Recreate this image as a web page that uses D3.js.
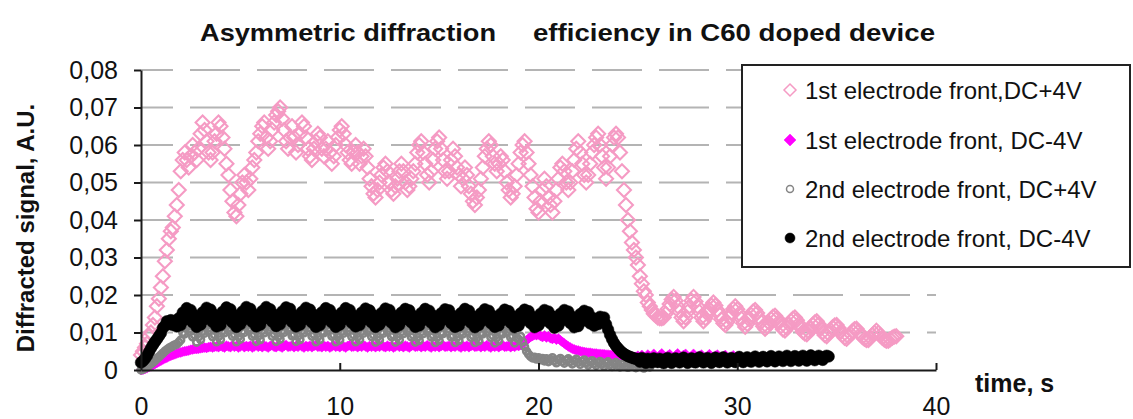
<!DOCTYPE html>
<html>
<head>
<meta charset="utf-8">
<script src="https://cdn.jsdelivr.net/npm/d3@7"></script>
<style>
  html, body { margin: 0; padding: 0; background: #fff; }
  svg { display: block; font-family: "Liberation Sans", Arial, sans-serif; }
</style>
</head>
<body>
<svg id="chart" width="1133" height="419"></svg>
<script>
// Sampling interval of the recorded traces, seconds (one row below = 1 s)
const timeStep = 0.1;

// 1st electrode front, DC+4V (t = 0 … 38 s)
const firstPlus = [
  0.004, 0.005, 0.006, 0.007, 0.009, 0.010, 0.012, 0.014, 0.017, 0.019,
  0.022, 0.025, 0.029, 0.032, 0.035, 0.037, 0.038, 0.041, 0.044, 0.048,
  0.053, 0.056, 0.058, 0.056, 0.054, 0.057, 0.060, 0.058, 0.056, 0.059,
  0.063, 0.066, 0.064, 0.061, 0.058, 0.056, 0.058, 0.061, 0.063, 0.066,
  0.065, 0.062, 0.059, 0.055, 0.052, 0.048, 0.045, 0.042, 0.041, 0.044,
  0.047, 0.050, 0.052, 0.050, 0.048, 0.051, 0.054, 0.056, 0.058, 0.061,
  0.063, 0.065, 0.066, 0.062, 0.059, 0.061, 0.064, 0.066, 0.068, 0.069,
  0.070, 0.067, 0.064, 0.061, 0.059, 0.062, 0.065, 0.062, 0.058, 0.060,
  0.063, 0.066, 0.065, 0.062, 0.059, 0.057, 0.056, 0.059, 0.061, 0.063,
  0.062, 0.059, 0.057, 0.059, 0.061, 0.058, 0.055, 0.057, 0.060, 0.062,
  0.064, 0.065, 0.063, 0.060, 0.058, 0.056, 0.055, 0.058, 0.060, 0.058,
  0.055, 0.057, 0.059, 0.057, 0.054, 0.051, 0.049, 0.047, 0.046, 0.048,
  0.050, 0.052, 0.054, 0.055, 0.053, 0.050, 0.048, 0.047, 0.049, 0.051,
  0.053, 0.055, 0.053, 0.050, 0.048, 0.049, 0.051, 0.053, 0.055, 0.058,
  0.060, 0.061, 0.058, 0.055, 0.052, 0.050, 0.053, 0.056, 0.059, 0.061,
  0.062, 0.059, 0.056, 0.053, 0.051, 0.053, 0.056, 0.059, 0.057, 0.054,
  0.052, 0.049, 0.051, 0.054, 0.052, 0.049, 0.047, 0.045, 0.044, 0.046,
  0.048, 0.051, 0.054, 0.057, 0.059, 0.061, 0.060, 0.057, 0.055, 0.053,
  0.055, 0.057, 0.056, 0.053, 0.050, 0.048, 0.046, 0.047, 0.049, 0.052,
  0.055, 0.058, 0.060, 0.061, 0.058, 0.055, 0.052, 0.049, 0.046, 0.043,
  0.042, 0.045, 0.048, 0.051, 0.049, 0.046, 0.044, 0.042, 0.045, 0.048,
  0.051, 0.054, 0.055, 0.053, 0.050, 0.048, 0.050, 0.053, 0.056, 0.059,
  0.061, 0.058, 0.055, 0.052, 0.050, 0.052, 0.055, 0.058, 0.060, 0.062,
  0.063, 0.060, 0.057, 0.054, 0.051, 0.054, 0.057, 0.060, 0.062, 0.063,
  0.062, 0.058, 0.053, 0.048, 0.044, 0.040, 0.037, 0.034, 0.032, 0.030,
  0.028, 0.025, 0.023, 0.021, 0.020, 0.018, 0.017, 0.016, 0.015, 0.0145,
  0.014, 0.0138, 0.0138, 0.014, 0.015, 0.0163, 0.0176, 0.0188, 0.0195, 0.0185,
  0.017, 0.0155, 0.014, 0.013, 0.014, 0.0155, 0.017, 0.0185, 0.0195, 0.0183,
  0.017, 0.0155, 0.014, 0.013, 0.0138, 0.015, 0.0162, 0.0172, 0.018, 0.0172,
  0.016, 0.0148, 0.0135, 0.0125, 0.012, 0.0128, 0.014, 0.0152, 0.0163, 0.017,
  0.0162, 0.015, 0.0137, 0.0125, 0.0115, 0.0123, 0.0135, 0.0147, 0.0156, 0.016,
  0.0152, 0.014, 0.0128, 0.0117, 0.011, 0.0116, 0.0126, 0.0136, 0.0142, 0.0145,
  0.0138, 0.0128, 0.0117, 0.0108, 0.0105, 0.0112, 0.0122, 0.0131, 0.0137, 0.014,
  0.0133, 0.0123, 0.0112, 0.0102, 0.0097, 0.0095, 0.0102, 0.0112, 0.0121, 0.0127,
  0.013, 0.0122, 0.0112, 0.0101, 0.0093, 0.009, 0.0097, 0.0106, 0.0114, 0.0119,
  0.012, 0.0112, 0.0102, 0.0093, 0.0086, 0.0083, 0.0089, 0.0097, 0.0104, 0.0109,
  0.011, 0.0103, 0.0095, 0.0088, 0.0083, 0.008, 0.008, 0.0086, 0.0093, 0.0099,
  0.0105, 0.0099, 0.0092, 0.0086, 0.0081, 0.0078, 0.0078, 0.0082, 0.0086, 0.0089,
  0.009
];

// 1st electrode front, DC-4V (t = 0 … 30 s)
const firstMinus = [
  0.0000, 0.0001, 0.0003, 0.0005, 0.0008, 0.0010, 0.0013, 0.0016, 0.0019, 0.0022,
  0.0025, 0.0028, 0.0031, 0.0033, 0.0036, 0.0038, 0.0040, 0.0042, 0.0044, 0.0046,
  0.0047, 0.0049, 0.0050, 0.0051, 0.0052, 0.0054, 0.0055, 0.0056, 0.0056, 0.0057,
  0.0058, 0.0059, 0.0060, 0.0059, 0.0061, 0.0062, 0.0060, 0.0062, 0.0063, 0.0061,
  0.0064, 0.0062, 0.0060, 0.0065, 0.0063, 0.0061, 0.0066, 0.0062, 0.0064, 0.0060,
  0.0063, 0.0066, 0.0061, 0.0064, 0.0062, 0.0065, 0.0060, 0.0063, 0.0066, 0.0062,
  0.0064, 0.0061, 0.0065, 0.0063, 0.0060, 0.0064, 0.0066, 0.0062, 0.0061, 0.0065,
  0.0063, 0.0060, 0.0064, 0.0067, 0.0062, 0.0063, 0.0065, 0.0061, 0.0064, 0.0062,
  0.0066, 0.0063, 0.0060, 0.0064, 0.0062, 0.0065, 0.0061, 0.0064, 0.0066, 0.0062,
  0.0063, 0.0061, 0.0065, 0.0062, 0.0064, 0.0060, 0.0063, 0.0066, 0.0062, 0.0064,
  0.0061, 0.0065, 0.0063, 0.0060, 0.0064, 0.0066, 0.0062, 0.0063, 0.0065, 0.0061,
  0.0064, 0.0062, 0.0066, 0.0063, 0.0060, 0.0064, 0.0062, 0.0065, 0.0061, 0.0064,
  0.0062, 0.0066, 0.0063, 0.0061, 0.0065, 0.0062, 0.0064, 0.0060, 0.0063, 0.0066,
  0.0062, 0.0064, 0.0061, 0.0065, 0.0063, 0.0060, 0.0064, 0.0066, 0.0062, 0.0063,
  0.0065, 0.0061, 0.0064, 0.0062, 0.0066, 0.0063, 0.0060, 0.0064, 0.0062, 0.0065,
  0.0061, 0.0064, 0.0066, 0.0062, 0.0063, 0.0065, 0.0061, 0.0064, 0.0062, 0.0066,
  0.0063, 0.0060, 0.0064, 0.0062, 0.0065, 0.0061, 0.0064, 0.0066, 0.0062, 0.0063,
  0.0065, 0.0061, 0.0064, 0.0062, 0.0066, 0.0063, 0.0060, 0.0064, 0.0062, 0.0065,
  0.0061, 0.0064, 0.0066, 0.0062, 0.0063, 0.0065, 0.0061, 0.0064, 0.0062, 0.0066,
  0.0064, 0.0067, 0.0070, 0.0074, 0.0079, 0.0084, 0.0088, 0.0091, 0.0094, 0.0093,
  0.0095, 0.0091, 0.0088, 0.0092, 0.0087, 0.0090, 0.0085, 0.0083, 0.0086, 0.0081,
  0.0084, 0.0079, 0.0075, 0.0071, 0.0067, 0.0063, 0.0060, 0.0057, 0.0055, 0.0053,
  0.0052, 0.0050, 0.0049, 0.0048, 0.0047, 0.0046, 0.0046, 0.0045, 0.0044, 0.0044,
  0.0043, 0.0043, 0.0042, 0.0042, 0.0041, 0.0041, 0.0040, 0.0040, 0.0039, 0.0039,
  0.0038, 0.0038, 0.0037, 0.0037, 0.0036, 0.0036, 0.0036, 0.0035, 0.0035, 0.0035,
  0.0038, 0.0032, 0.0040, 0.0034, 0.0030, 0.0041, 0.0036, 0.0031, 0.0043, 0.0033,
  0.0027, 0.0039, 0.0044, 0.0032, 0.0026, 0.0038, 0.0042, 0.0030, 0.0025, 0.0039,
  0.0044, 0.0031, 0.0027, 0.0040, 0.0043, 0.0030, 0.0024, 0.0037, 0.0043, 0.0031,
  0.0026, 0.0038, 0.0041, 0.0029, 0.0025, 0.0036, 0.0042, 0.0031, 0.0026, 0.0038,
  0.0041, 0.0029, 0.0025, 0.0036, 0.0040, 0.0028, 0.0024, 0.0035, 0.0039, 0.0029,
  0.0034
];

// 2nd electrode front, DC+4V (t = 0 … 25.6 s)
const secondPlus = [
  0.0000, 0.0002, 0.0005, 0.0008, 0.0012, 0.0016, 0.0020, 0.0025, 0.0030, 0.0035,
  0.0040, 0.0045, 0.0050, 0.0054, 0.0058, 0.0061, 0.0064, 0.0067, 0.0069, 0.0074,
  0.0080, 0.0100, 0.0096, 0.0115, 0.0103, 0.0110, 0.0088, 0.0093, 0.0074, 0.0088,
  0.0081, 0.0103, 0.0098, 0.0118, 0.0104, 0.0112, 0.0089, 0.0094, 0.0075, 0.0089,
  0.0081, 0.0104, 0.0099, 0.0119, 0.0105, 0.0113, 0.0090, 0.0095, 0.0075, 0.0089,
  0.0082, 0.0104, 0.0100, 0.0119, 0.0106, 0.0113, 0.0090, 0.0095, 0.0076, 0.0090,
  0.0081, 0.0105, 0.0099, 0.0120, 0.0105, 0.0114, 0.0090, 0.0096, 0.0076, 0.0089,
  0.0082, 0.0104, 0.0100, 0.0119, 0.0106, 0.0113, 0.0091, 0.0095, 0.0076, 0.0090,
  0.0081, 0.0104, 0.0099, 0.0119, 0.0105, 0.0113, 0.0090, 0.0095, 0.0075, 0.0089,
  0.0081, 0.0103, 0.0099, 0.0118, 0.0105, 0.0112, 0.0090, 0.0094, 0.0075, 0.0089,
  0.0080, 0.0103, 0.0098, 0.0118, 0.0104, 0.0112, 0.0089, 0.0094, 0.0075, 0.0088,
  0.0081, 0.0103, 0.0098, 0.0117, 0.0104, 0.0111, 0.0089, 0.0094, 0.0074, 0.0088,
  0.0080, 0.0102, 0.0098, 0.0117, 0.0103, 0.0111, 0.0089, 0.0093, 0.0074, 0.0088,
  0.0080, 0.0102, 0.0097, 0.0117, 0.0103, 0.0111, 0.0088, 0.0093, 0.0074, 0.0087,
  0.0079, 0.0102, 0.0097, 0.0116, 0.0103, 0.0110, 0.0088, 0.0093, 0.0073, 0.0087,
  0.0079, 0.0101, 0.0097, 0.0116, 0.0102, 0.0110, 0.0088, 0.0092, 0.0073, 0.0087,
  0.0079, 0.0101, 0.0096, 0.0115, 0.0102, 0.0110, 0.0087, 0.0092, 0.0073, 0.0086,
  0.0078, 0.0100, 0.0096, 0.0115, 0.0101, 0.0109, 0.0087, 0.0092, 0.0072, 0.0086,
  0.0078, 0.0100, 0.0096, 0.0114, 0.0101, 0.0109, 0.0087, 0.0091, 0.0072, 0.0086,
  0.0082, 0.0090, 0.0075, 0.0062, 0.0050, 0.0042, 0.0036, 0.0032, 0.0034, 0.0029,
  0.0033, 0.0027, 0.0031, 0.0024, 0.0030, 0.0022, 0.0028, 0.0033, 0.0025, 0.0019,
  0.0027, 0.0031, 0.0023, 0.0018, 0.0026, 0.0030, 0.0022, 0.0016, 0.0024, 0.0029,
  0.0021, 0.0015, 0.0023, 0.0027, 0.0019, 0.0013, 0.0021, 0.0025, 0.0017, 0.0012,
  0.0019, 0.0023, 0.0016, 0.0010, 0.0018, 0.0022, 0.0014, 0.0009, 0.0016, 0.0020,
  0.0013, 0.0008, 0.0015, 0.0018, 0.0011, 0.0007, 0.0013, 0.0016, 0.0010, 0.0006,
  0.0012, 0.0014, 0.0009, 0.0005, 0.0010, 0.0012, 0.0008
];

// 2nd electrode front, DC-4V (t = 0 … 34.6 s)
const secondMinus = [
  0.0020, 0.0024, 0.0030, 0.0038, 0.0048, 0.0058, 0.0067, 0.0075, 0.0082, 0.0090,
  0.0098, 0.0112, 0.0118, 0.0130, 0.0122, 0.0133, 0.0120, 0.0131, 0.0116, 0.0138,
  0.0120, 0.0153, 0.0134, 0.0165, 0.0139, 0.0160, 0.0127, 0.0146, 0.0115, 0.0141,
  0.0121, 0.0154, 0.0135, 0.0166, 0.0140, 0.0161, 0.0128, 0.0147, 0.0116, 0.0142,
  0.0120, 0.0155, 0.0136, 0.0167, 0.0139, 0.0162, 0.0127, 0.0146, 0.0115, 0.0143,
  0.0122, 0.0156, 0.0135, 0.0168, 0.0141, 0.0163, 0.0128, 0.0148, 0.0116, 0.0142,
  0.0121, 0.0157, 0.0137, 0.0168, 0.0140, 0.0162, 0.0129, 0.0147, 0.0117, 0.0143,
  0.0122, 0.0156, 0.0136, 0.0167, 0.0141, 0.0163, 0.0128, 0.0146, 0.0116, 0.0142,
  0.0121, 0.0155, 0.0135, 0.0166, 0.0140, 0.0161, 0.0127, 0.0147, 0.0115, 0.0141,
  0.0120, 0.0154, 0.0134, 0.0165, 0.0139, 0.0160, 0.0127, 0.0146, 0.0115, 0.0142,
  0.0121, 0.0153, 0.0135, 0.0165, 0.0140, 0.0160, 0.0126, 0.0145, 0.0116, 0.0141,
  0.0120, 0.0153, 0.0134, 0.0164, 0.0139, 0.0159, 0.0127, 0.0146, 0.0115, 0.0140,
  0.0121, 0.0152, 0.0133, 0.0164, 0.0138, 0.0160, 0.0126, 0.0145, 0.0114, 0.0141,
  0.0120, 0.0153, 0.0134, 0.0163, 0.0139, 0.0159, 0.0127, 0.0144, 0.0115, 0.0140,
  0.0119, 0.0152, 0.0133, 0.0163, 0.0138, 0.0158, 0.0126, 0.0145, 0.0114, 0.0141,
  0.0120, 0.0151, 0.0134, 0.0162, 0.0139, 0.0159, 0.0125, 0.0144, 0.0115, 0.0140,
  0.0119, 0.0152, 0.0133, 0.0163, 0.0138, 0.0158, 0.0126, 0.0143, 0.0114, 0.0139,
  0.0120, 0.0151, 0.0132, 0.0162, 0.0137, 0.0158, 0.0125, 0.0144, 0.0115, 0.0140,
  0.0119, 0.0150, 0.0133, 0.0161, 0.0138, 0.0157, 0.0126, 0.0143, 0.0114, 0.0139,
  0.0118, 0.0151, 0.0132, 0.0161, 0.0137, 0.0157, 0.0125, 0.0142, 0.0114, 0.0140,
  0.0119, 0.0150, 0.0131, 0.0160, 0.0136, 0.0156, 0.0124, 0.0143, 0.0113, 0.0139,
  0.0118, 0.0150, 0.0132, 0.0160, 0.0137, 0.0156, 0.0125, 0.0142, 0.0114, 0.0138,
  0.0117, 0.0149, 0.0131, 0.0158, 0.0136, 0.0154, 0.0124, 0.0140, 0.0118, 0.0135,
  0.0122, 0.0142, 0.0128, 0.0140, 0.0122, 0.0108, 0.0094, 0.0082, 0.0072, 0.0064,
  0.0058, 0.0052, 0.0047, 0.0043, 0.0040, 0.0037, 0.0035, 0.0033, 0.0031, 0.0030,
  0.0029, 0.0022, 0.0032, 0.0025, 0.0019, 0.0030, 0.0027, 0.0020, 0.0031, 0.0026,
  0.0021, 0.0030, 0.0025, 0.0018, 0.0029, 0.0032, 0.0023, 0.0019, 0.0028, 0.0031,
  0.0024, 0.0020, 0.0029, 0.0033, 0.0025, 0.0019, 0.0027, 0.0031, 0.0022, 0.0020,
  0.0030, 0.0034, 0.0026, 0.0020, 0.0027, 0.0032, 0.0024, 0.0019, 0.0028, 0.0033,
  0.0025, 0.0021, 0.0030, 0.0034, 0.0026, 0.0020, 0.0028, 0.0032, 0.0024, 0.0021,
  0.0029, 0.0035, 0.0027, 0.0021, 0.0030, 0.0034, 0.0025, 0.0022, 0.0031, 0.0036,
  0.0028, 0.0022, 0.0030, 0.0035, 0.0027, 0.0023, 0.0032, 0.0037, 0.0029, 0.0023,
  0.0031, 0.0036, 0.0028, 0.0024, 0.0033, 0.0038, 0.0029, 0.0024, 0.0032, 0.0037,
  0.0030, 0.0025, 0.0034, 0.0038, 0.0029, 0.0025, 0.0033, 0.0039, 0.0031, 0.0026,
  0.0034, 0.0038, 0.0030, 0.0027, 0.0035, 0.0038, 0.0036
];

const seriesNames = [
  "1st electrode front,DC+4V",
  "1st electrode front, DC-4V",
  "2nd electrode front, DC+4V",
  "2nd electrode front, DC-4V"
];

const yTickValues = [0, 0.01, 0.02, 0.03, 0.04, 0.05, 0.06, 0.07, 0.08];
const yTickLabels = ["0", "0,01", "0,02", "0,03", "0,04", "0,05", "0,06", "0,07", "0,08"];
const xTickValues = [0, 10, 20, 30, 40];
const xTickLabels = ["0", "10", "20", "30", "40"];

const titleLeft = "Asymmetric diffraction";
const titleRight = "efficiency in C60 doped device";
const yTitle = "Diffracted signal, A.U.";
const xTitle = "time, s";

// ---------------------------------------------------------------
const svg = d3.select("#chart");
const x = d3.scaleLinear().domain([0, 40]).range([141, 936]);
const y = d3.scaleLinear().domain([0, 0.08]).range([370, 70]);

const toPoints = vals => vals.map((v, i) => ({ t: i * timeStep, v }));

// dashed horizontal gridlines
svg.append("g").selectAll("line")
  .data(yTickValues.filter(d => d > 0))
  .join("line")
  .attr("x1", x(0)).attr("x2", x(40))
  .attr("y1", d => y(d)).attr("y2", d => y(d))
  .attr("stroke", "#b4b4b4")
  .attr("stroke-width", 2)
  .attr("stroke-dasharray", "50,17")
  .attr("stroke-dashoffset", 18);

// marker shapes
const diamond = h => `M0,${-h}L${h},0L0,${h}L${-h},0Z`;
const circle = r => `M${r},0A${r},${r} 0 1,1 ${-r},0A${r},${r} 0 1,1 ${r},0Z`;

const styles = [
  { path: diamond(7),   fill: "none",    stroke: "#f59bc4", sw: 2.1, legend: diamond(6),  lfill: "#fff", lsw: 1.5 },
  { path: diamond(5),   fill: "#ff00ff", stroke: "#ff00ff", sw: 0.5, legend: diamond(6),  lfill: "#ff00ff", lsw: 0.5 },
  { path: circle(3.4),  fill: "none",    stroke: "#858585", sw: 2.6, legend: circle(3.5), lfill: "#fff", lsw: 1.5 },
  { path: circle(5.8),  fill: "#000",    stroke: "#000",    sw: 0.5, legend: circle(5),   lfill: "#000", lsw: 0.5 }
];
const allSeries = [firstPlus, firstMinus, secondPlus, secondMinus];

const plot = svg.append("g");
allSeries.forEach((vals, k) => {
  const st = styles[k];
  plot.append("g").selectAll("path")
    .data(toPoints(vals))
    .join("path")
    .attr("transform", d => `translate(${x(d.t)},${y(d.v)})`)
    .attr("d", st.path)
    .attr("fill", st.fill)
    .attr("stroke", st.stroke)
    .attr("stroke-width", st.sw);
});

// axes
const yAxis = d3.axisLeft(y)
  .tickValues(yTickValues)
  .tickFormat((d, i) => yTickLabels[i])
  .tickSizeInner(7).tickSizeOuter(0).tickPadding(16);
const gy = svg.append("g").attr("transform", `translate(${x(0)},0)`).call(yAxis);

const xAxis = d3.axisBottom(x)
  .tickValues(xTickValues)
  .tickFormat((d, i) => xTickLabels[i])
  .tickSizeInner(-7).tickSizeOuter(0).tickPadding(27);
const gx = svg.append("g").attr("transform", `translate(0,${y(0)})`).call(xAxis);

[gx, gy].forEach(g => {
  g.select(".domain").attr("stroke", "#1a1a1a").attr("stroke-width", 2);
  g.selectAll(".tick line").attr("stroke", "#1a1a1a").attr("stroke-width", 2);
  g.selectAll(".tick text").attr("fill", "#111").style("font-size", "25px");
});
gx.selectAll(".tick").filter(d => d === 0).select("line").remove();

// titles
svg.append("text").attr("x", 200).attr("y", 41)
  .attr("textLength", 296).attr("lengthAdjust", "spacingAndGlyphs")
  .style("font-size", "24px").style("font-weight", "bold").attr("fill", "#111")
  .text(titleLeft);
svg.append("text").attr("x", 533).attr("y", 41)
  .attr("textLength", 402).attr("lengthAdjust", "spacingAndGlyphs")
  .style("font-size", "24px").style("font-weight", "bold").attr("fill", "#111")
  .text(titleRight);
svg.append("text")
  .attr("transform", `translate(34,228) rotate(-90)`)
  .attr("text-anchor", "middle")
  .style("font-size", "24px").style("font-weight", "bold").attr("fill", "#111")
  .text(yTitle);
svg.append("text").attr("x", 975).attr("y", 392)
  .style("font-size", "25px").style("font-weight", "bold").attr("fill", "#111")
  .text(xTitle);

// legend
const legend = svg.append("g");
legend.append("rect")
  .attr("x", 742).attr("y", 65).attr("width", 388).attr("height", 202)
  .attr("fill", "#fff").attr("stroke", "#222").attr("stroke-width", 2);
const rowY = [90, 140, 189, 238];
seriesNames.forEach((name, k) => {
  const st = styles[k];
  legend.append("path")
    .attr("transform", `translate(790,${rowY[k]})`)
    .attr("d", st.legend)
    .attr("fill", st.lfill).attr("stroke", st.stroke)
    .attr("stroke-width", st.lsw);
  legend.append("text")
    .attr("x", 805).attr("y", rowY[k]).attr("dy", "0.36em")
    .style("font-size", "24px").attr("fill", "#111")
    .text(name);
});
</script>
</body>
</html>
